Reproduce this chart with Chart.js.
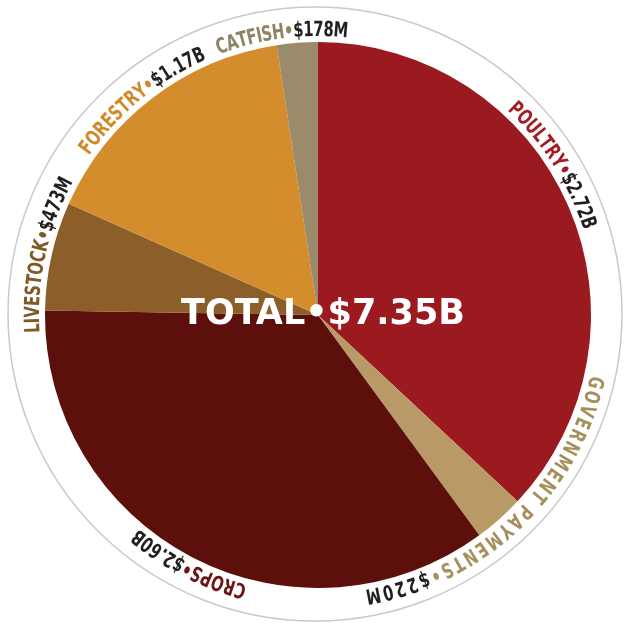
<!DOCTYPE html>
<html lang="en">
<head>
  <meta charset="UTF-8" />
  <title>Farm Income Pie</title>
  <script src="https://cdn.jsdelivr.net/npm/chart.js"></script>
  <style>
    html, body { margin: 0; padding: 0; background: #fff; }
    #wrap { width: 626px; height: 625px; position: relative; }
  </style>
</head>
<body>
<div id="wrap"><canvas id="pie"></canvas></div>
<script>
// values in billions of dollars
const categories = ["POULTRY", "GOVERNMENT PAYMENTS", "CROPS", "LIVESTOCK", "FORESTRY", "CATFISH"];
const values = [2.72, 0.22, 2.60, 0.473, 1.17, 0.178];
const valueLabels = ["$2.72B", "$220M", "$2.60B", "$473M", "$1.17B", "$178M"];
const totalLabel = "TOTAL\u2022$7.35B";

const sliceColors = ["#9a1a1f", "#b99a66", "#5c0f0b", "#8c5f2a", "#d38d2c", "#9b8b6b"];
const nameColors  = ["#a31d24", "#a58f5c", "#6e1414", "#7d5a28", "#d08a28", "#8e8462"];

// writes the labels round the pie, letter by letter, tops facing out
const ringLabels = {
  id: "ringLabels",
  afterDraw(chart, args, opts) {
    const ctx = chart.ctx;
    const meta = chart.getDatasetMeta(0);
    const cx = meta.data[0].x, cy = meta.data[0].y;
    const R = meta.data[0].outerRadius;

    // outer thin ring
    ctx.save();
    ctx.beginPath();
    ctx.arc(cx - 3, cy - 1, R + opts.ringGap, 0, Math.PI * 2);
    ctx.strokeStyle = "#c9c9c9";
    ctx.lineWidth = 1.5;
    ctx.stroke();
    ctx.restore();

    const r = R + opts.textGap;
    ctx.save();
    ctx.font = opts.font;
    ctx.textAlign = "center";
    ctx.textBaseline = "alphabetic";
    meta.data.forEach((arc, i) => {
      const parts = [
        { t: categories[i] + "\u2022", c: nameColors[i] },
        { t: valueLabels[i], c: "#231f20" }
      ];
      const extra = opts.tracking[i] || 0;
      const chars = [];
      parts.forEach(p => {
        for (const ch of p.t) chars.push({ ch, c: p.c, w: ctx.measureText(ch).width * opts.squeeze + extra });
      });
      const total = chars.reduce((s, c) => s + c.w, 0);
      const mid = (arc.startAngle + arc.endAngle) / 2 + (opts.shift[i] || 0) * Math.PI / 180;
      let a = mid - total / r / 2;
      chars.forEach(c => {
        const ca = a + c.w / 2 / r;
        ctx.save();
        ctx.translate(cx + r * Math.cos(ca), cy + r * Math.sin(ca));
        ctx.rotate(ca + Math.PI / 2);
        ctx.scale(opts.squeeze, 1);
        ctx.fillStyle = c.c;
        ctx.fillText(c.ch, 0, 0);
        ctx.restore();
        a += c.w / r;
      });
    });
    ctx.restore();

    // total in the middle
    ctx.save();
    ctx.font = opts.totalFont;
    ctx.fillStyle = "#ffffff";
    ctx.textAlign = "center";
    ctx.textBaseline = "alphabetic";
    ctx.fillText(totalLabel, cx + 5, cy + 9);
    ctx.restore();
  }
};

new Chart(document.getElementById("pie"), {
  type: "pie",
  data: {
    labels: categories,
    datasets: [{
      data: values,
      backgroundColor: sliceColors,
      borderWidth: 0,
      hoverOffset: 0
    }]
  },
  options: {
    responsive: true,
    maintainAspectRatio: false,
    animation: false,
    layout: { padding: { left: 45, right: 35, top: 42, bottom: 37 } },
    plugins: {
      legend: { display: false },
      tooltip: { enabled: false },
      ringLabels: {
        font: "bold 21px 'DejaVu Sans Condensed', 'Liberation Sans Narrow', sans-serif",
        totalFont: "bold 35px 'DejaVu Sans', sans-serif",
        squeeze: 0.78,
        textGap: 6,
        ringGap: 34,
        shift: [-9, -2, 0, 0, -2, -3],
        tracking: [0, 2.2, 0, 0, 0, -0.4]
      }
    }
  },
  plugins: [ringLabels]
});
</script>
</body>
</html>
